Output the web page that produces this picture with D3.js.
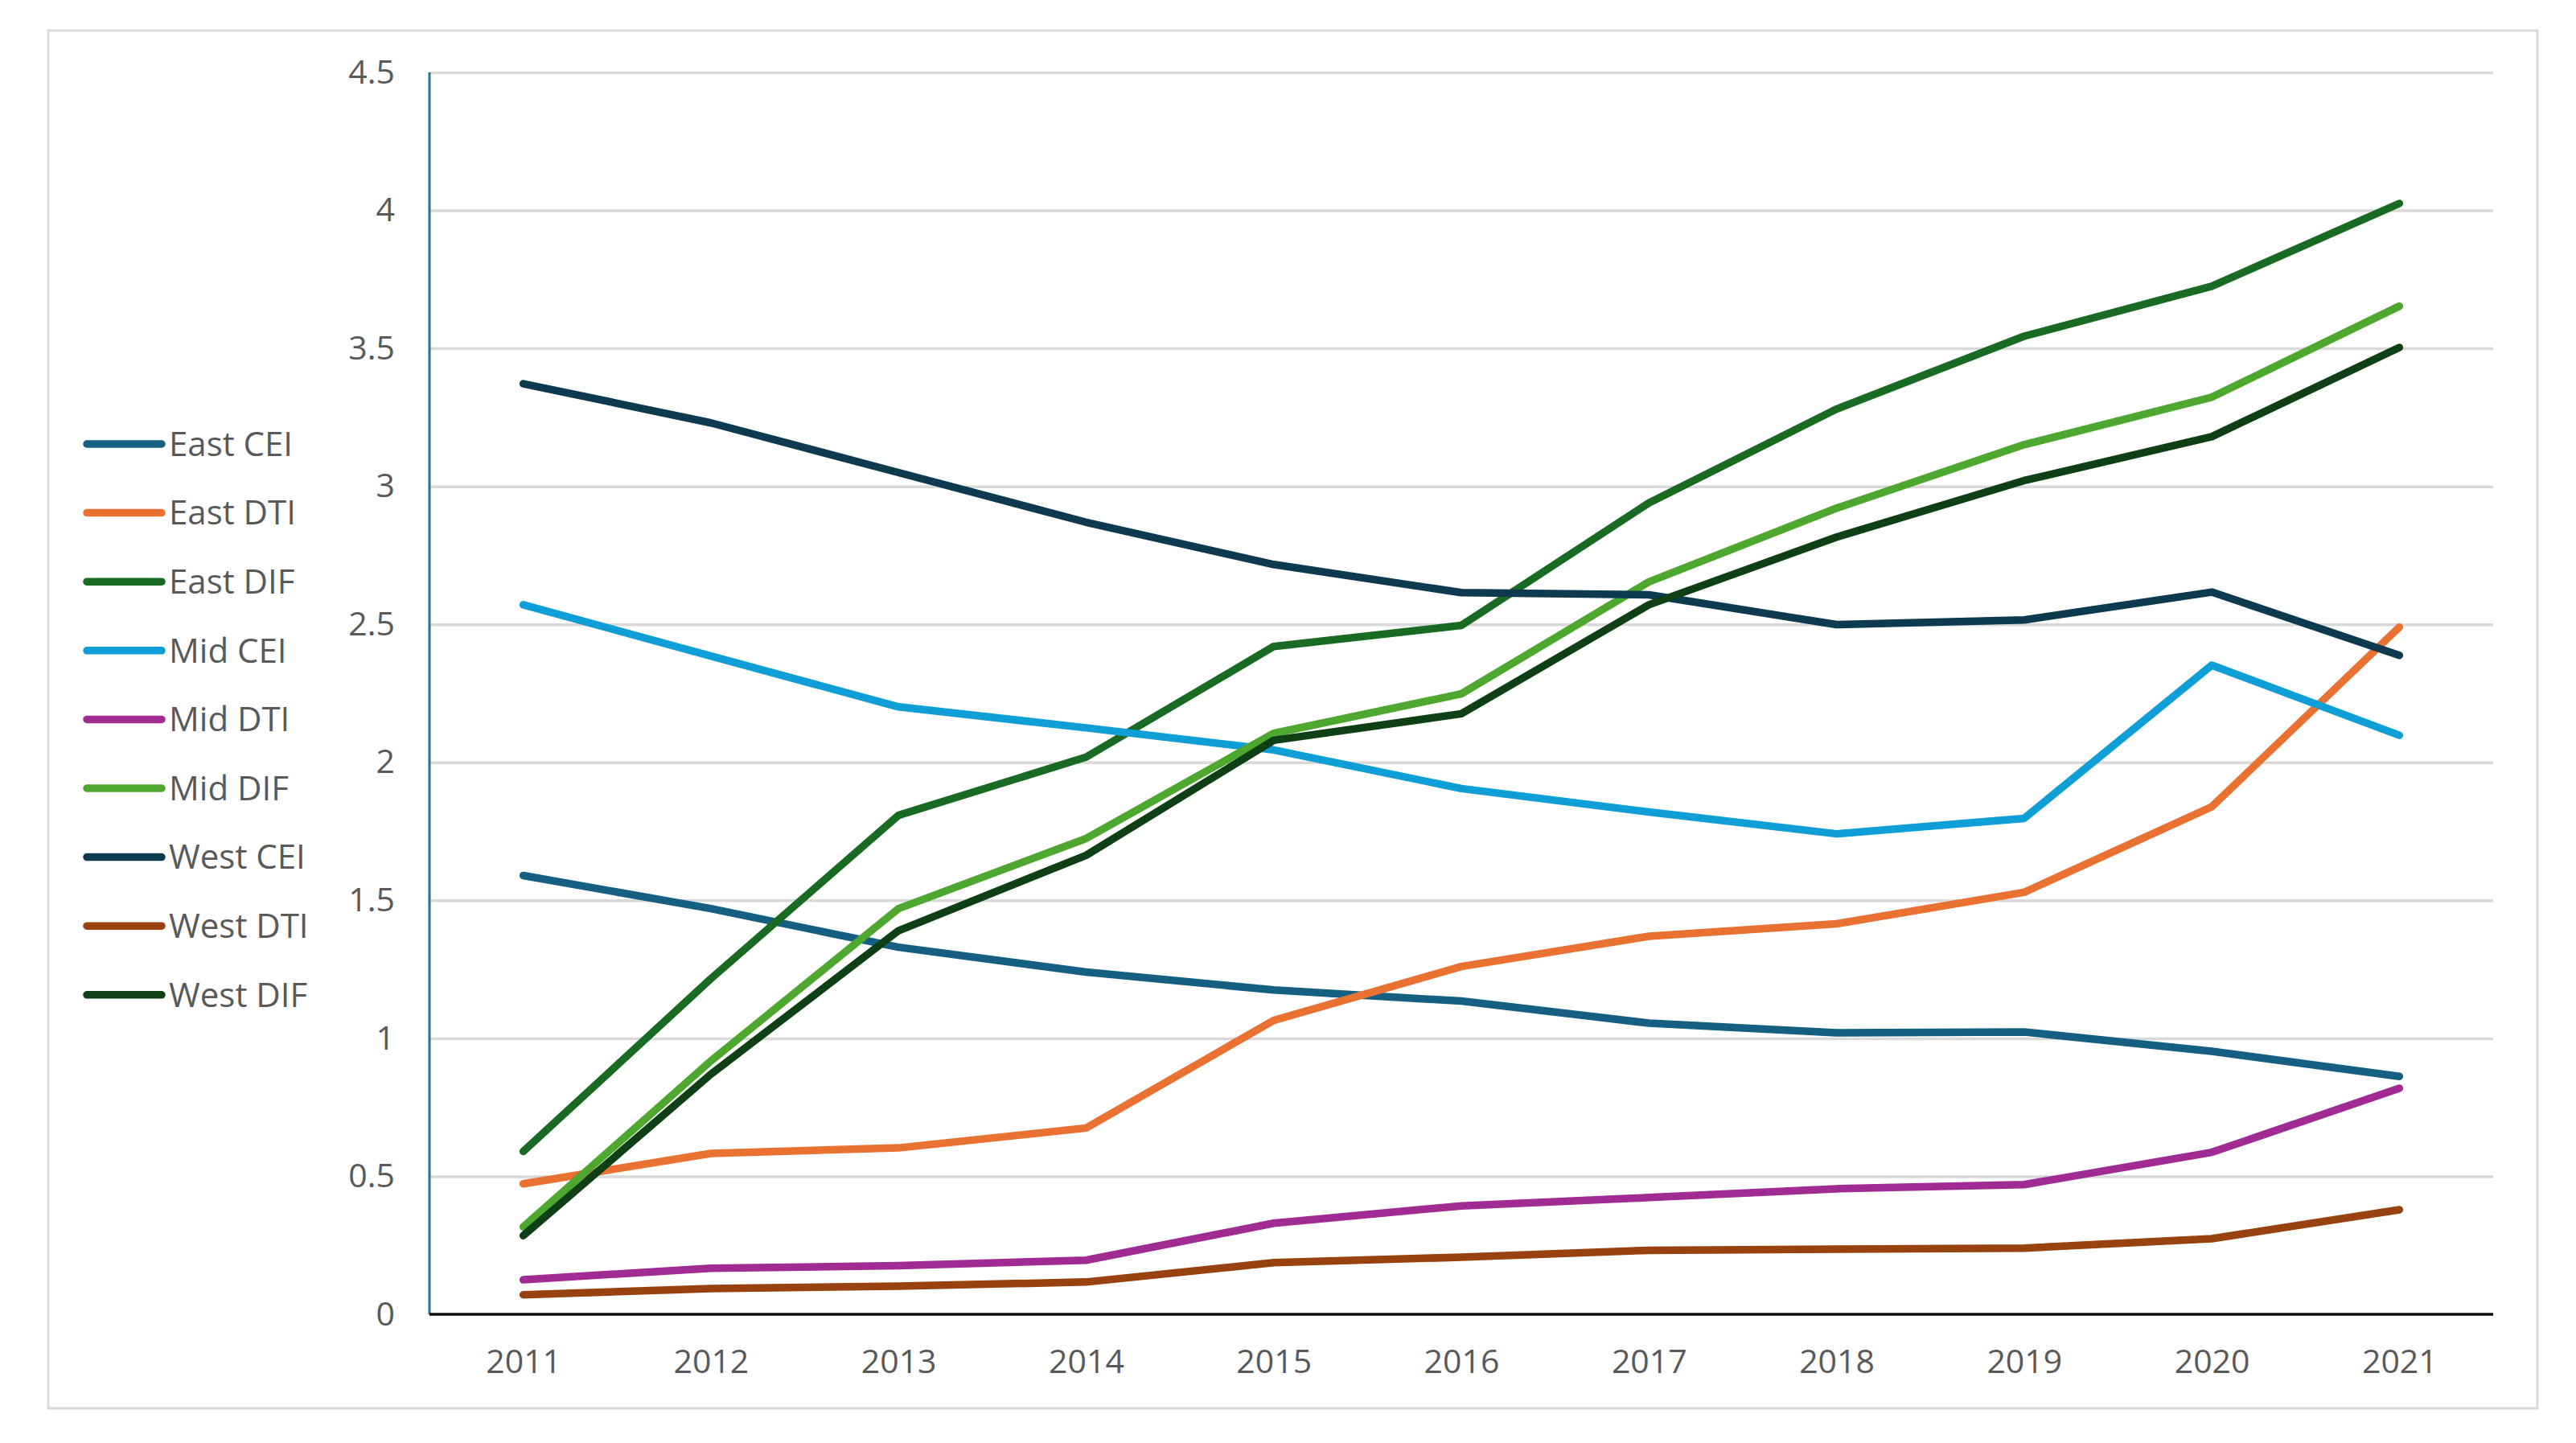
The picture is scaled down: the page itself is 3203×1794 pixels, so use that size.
<!DOCTYPE html>
<html>
<head>
<meta charset="utf-8">
<script src="https://cdn.jsdelivr.net/npm/d3@7"></script>
<style>
  html, body { margin: 0; padding: 0; background: #ffffff; }
  svg { display: block; }
  text { font-family: "Open Sans", "Noto Sans", sans-serif; fill: #595959; }
</style>
</head>
<body>
<svg id="chart" width="3203" height="1794"></svg>
<script>
const years = ["2011","2012","2013","2014","2015","2016","2017","2018","2019","2020","2021"];
const yTicks = [0, 0.5, 1, 1.5, 2, 2.5, 3, 3.5, 4, 4.5];
const seriesNames = ["East CEI","East DTI","East DIF","Mid CEI","Mid DTI","Mid DIF","West CEI","West DTI","West DIF"];
const seriesColors = ["#156082","#E97132","#196B24","#0F9ED5","#A02B93","#4EA72E","#0D3A4F","#98420F","#0F4015"];

const eastCEI = [1.59, 1.47, 1.33, 1.24, 1.175, 1.135, 1.055, 1.02, 1.023, 0.953, 0.862];
const eastDTI = [0.473, 0.583, 0.603, 0.675, 1.065, 1.26, 1.37, 1.415, 1.529, 1.839, 2.49];
const eastDIF = [0.59, 1.216, 1.808, 2.019, 2.42, 2.496, 2.94, 3.28, 3.544, 3.725, 4.025];
const midCEI  = [2.571, 2.385, 2.201, 2.125, 2.045, 1.905, 1.82, 1.741, 1.797, 2.352, 2.098];
const midDTI  = [0.125, 0.167, 0.176, 0.196, 0.33, 0.393, 0.423, 0.455, 0.47, 0.587, 0.819];
const midDIF  = [0.317, 0.918, 1.47, 1.724, 2.105, 2.248, 2.654, 2.921, 3.151, 3.323, 3.653];
const westCEI = [3.372, 3.23, 3.05, 2.87, 2.717, 2.615, 2.607, 2.499, 2.516, 2.617, 2.388];
const westDTI = [0.071, 0.093, 0.102, 0.117, 0.187, 0.207, 0.232, 0.236, 0.24, 0.274, 0.379];
const westDIF = [0.285, 0.87, 1.39, 1.663, 2.08, 2.176, 2.571, 2.816, 3.021, 3.18, 3.503];

const seriesValues = [eastCEI, eastDTI, eastDIF, midCEI, midDTI, midDIF, westCEI, westDTI, westDIF];

const svg = d3.select("#chart");

// chart area border
svg.append("rect")
  .attr("x", 60).attr("y", 38)
  .attr("width", 3095).attr("height", 1713)
  .attr("fill", "#ffffff")
  .attr("stroke", "#d9d9d9")
  .attr("stroke-width", 3);

const plot = { left: 534, right: 3100, top: 90, bottom: 1634 };

const x = d3.scalePoint().domain(years).range([plot.left, plot.right]).padding(0.5);
const y = d3.scaleLinear().domain([0, 4.5]).range([plot.bottom, plot.top]);

// gridlines
const grid = svg.append("g")
  .attr("transform", `translate(${plot.left},0)`)
  .call(d3.axisLeft(y).tickValues(yTicks.filter(d => d > 0)).tickSize(-(plot.right - plot.left)).tickFormat(""));
grid.select(".domain").remove();
grid.selectAll("line").attr("stroke", "#d9d9d9").attr("stroke-width", 3.5);

// y axis labels
const yAxis = svg.append("g")
  .attr("transform", `translate(${plot.left - 43},0)`)
  .call(d3.axisLeft(y).tickValues(yTicks).tickSize(0).tickPadding(0).tickFormat(d => String(d)));
yAxis.select(".domain").remove();
yAxis.selectAll("text")
  .attr("font-size", 41)
  .attr("fill", "#595959")
  .style("font-family", '"Open Sans", sans-serif');

// left axis line
svg.append("line")
  .attr("x1", plot.left).attr("x2", plot.left)
  .attr("y1", plot.top).attr("y2", plot.bottom)
  .attr("stroke", "#2b7090").attr("stroke-width", 3);

// x axis
const xAxis = svg.append("g")
  .attr("transform", `translate(0,${plot.bottom})`)
  .call(d3.axisBottom(x).tickSize(0).tickPadding(44));
xAxis.select(".domain").remove();
xAxis.selectAll("text")
  .attr("font-size", 41)
  .attr("fill", "#595959")
  .style("font-family", '"Open Sans", sans-serif');

// lines
const line = d3.line()
  .x((d, i) => x(years[i]))
  .y(d => y(d));

svg.append("g").selectAll("path")
  .data(seriesValues)
  .join("path")
  .attr("d", d => line(d))
  .attr("fill", "none")
  .attr("stroke", (d, i) => seriesColors[i])
  .attr("stroke-width", 9.5)
  .attr("stroke-linecap", "round")
  .attr("stroke-linejoin", "round");

// bottom axis line (drawn above lines)
svg.append("line")
  .attr("x1", plot.left).attr("x2", plot.right)
  .attr("y1", plot.bottom).attr("y2", plot.bottom)
  .attr("stroke", "#0d0d0d").attr("stroke-width", 3.5);

// legend
const legend = svg.append("g");
const legendItems = legend.selectAll("g")
  .data(seriesNames)
  .join("g")
  .attr("transform", (d, i) => `translate(0,${552 + i * 85.6})`);
legendItems.append("line")
  .attr("x1", 108).attr("x2", 201)
  .attr("y1", 0).attr("y2", 0)
  .attr("stroke", (d, i) => seriesColors[i])
  .attr("stroke-width", 9.5)
  .attr("stroke-linecap", "round");
legendItems.append("text")
  .attr("x", 210)
  .attr("y", 0)
  .attr("dy", "0.35em")
  .attr("font-size", 42)
  .text(d => d);
</script>
</body>
</html>
